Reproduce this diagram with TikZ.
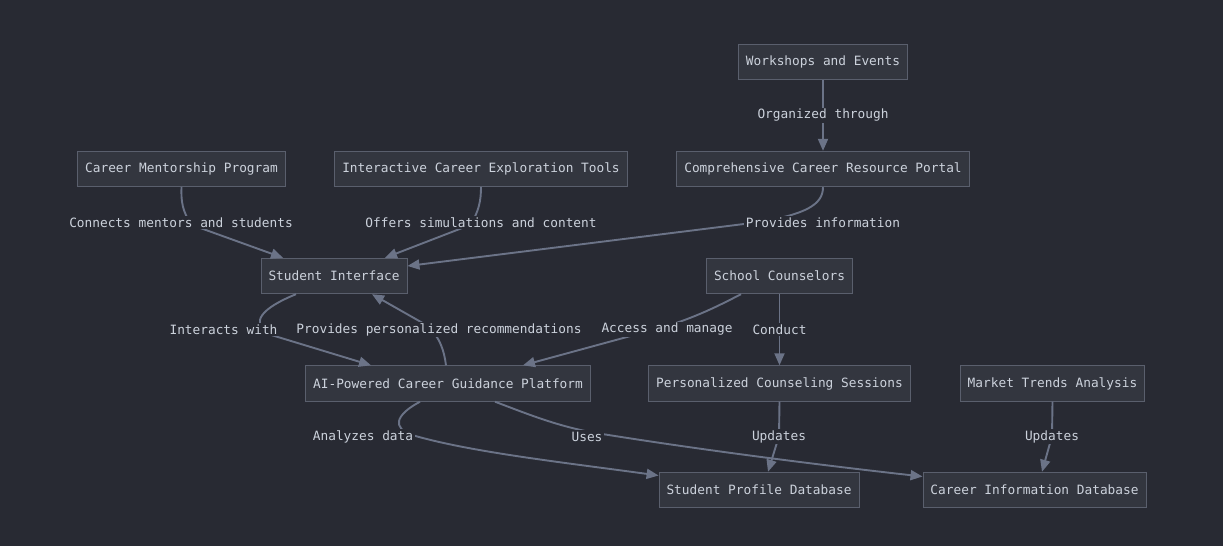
\documentclass[tikz,border=0pt]{standalone}
\usepackage{fontspec}
\setmonofont{DejaVu Sans Mono}
\usepackage{tikz}
\usetikzlibrary{arrows.meta,positioning}

\definecolor{canvas}{HTML}{282A33}
\definecolor{boxfill}{HTML}{33363F}
\definecolor{boxline}{HTML}{5A5F6D}
\definecolor{ink}{HTML}{CCD2DC}
\definecolor{wire}{HTML}{6B7387}

\tikzset{
  box/.style={draw=boxline,fill=boxfill,line width=0.9pt,text=ink,
    font=\ttfamily\fontsize{12.8}{15}\selectfont,inner xsep=7.5pt,minimum height=35.5pt},
  lbl/.style={fill=canvas,text=ink,font=\ttfamily\fontsize{12.8}{15}\selectfont,inner sep=1.5pt},
  link/.style={draw=wire,line width=1.9pt,-{Triangle[length=12pt,width=10pt]}}
}

\begin{document}
\begin{tikzpicture}[x=1pt,y=-1pt]
  \fill[canvas] (0,0) rectangle (1223,546);
  \useasboundingbox (0,0) rectangle (1223,546);

  \node[box] (events)   at (823,62)    {Workshops and Events};
  \node[box] (mentor)   at (181.5,169) {Career Mentorship Program};
  \node[box] (tools)    at (481,169)   {Interactive Career Exploration Tools};
  \node[box] (portal)   at (823,169)   {Comprehensive Career Resource Portal};
  \node[box] (student)  at (334,276)   {Student Interface};
  \node[box] (counsel)  at (779.5,276) {School Counselors};
  \node[box] (platform) at (448,383.5) {AI-Powered Career Guidance Platform};
  \node[box] (sessions) at (779.5,383.5) {Personalized Counseling Sessions};
  \node[box] (market)   at (1052.5,383.5) {Market Trends Analysis};
  \node[box] (profile)  at (759,490)   {Student Profile Database};
  \node[box] (careerdb) at (1034.5,490) {Career Information Database};

  \draw[link] (events) -- (portal);
  \draw[link] (mentor.south) .. controls (181,200) and (182,212) .. (192,225) -- ([xshift=-51pt]student.north);
  \draw[link] (tools.south) .. controls (481,200) and (479,212) .. (470,225) -- ([xshift=51pt]student.north);
  \draw[link] (portal.south) .. controls (823,205) and (805,214) .. (760,222) -- ([yshift=10pt]student.east);
  \draw[link] ([xshift=-38pt]student.south) .. controls (262,308) and (250,322) .. (268,334) -- ([xshift=-77pt]platform.north);
  \draw[link] ([xshift=-2pt]platform.north) .. controls (444,350) and (440,338) .. (428,326) -- ([xshift=38pt]student.south);
  \draw[link] ([xshift=-38.5pt]counsel.south) .. controls (720,305) and (695,318) .. (660,328) -- ([xshift=75pt]platform.north);
  \draw[link] (counsel) -- (sessions);
  \draw[link] ([xshift=-28pt]platform.south) .. controls (395,415) and (392,428) .. (412,435)
    .. controls (470,452) and (560,462) .. ([yshift=14.5pt]profile.west);
  \draw[link] ([xshift=47pt]platform.south) .. controls (530,415) and (555,425) .. (590,432)
    .. controls (700,450) and (820,465) .. ([yshift=13.5pt]careerdb.west);
  \draw[link] (sessions.south) -- (779,436) -- ([xshift=9pt]profile.north);
  \draw[link] (market.south) -- (1052,436) -- ([xshift=7.5pt]careerdb.north);

  \node[lbl] (l1)  at (823,115.5)   {Organized through};
  \node[lbl] (l2)  at (181,222.5)   {Connects mentors and students};
  \node[lbl] (l3)  at (481,222.5)   {Offers simulations and content};
  \node[lbl] (l4)  at (823,222.5)   {Provides information};
  \node[lbl] (l5)  at (223.5,329.5) {Interacts with};
  \node[lbl] (l6)  at (439,329.5)   {Provides personalized recommendations};
  \node[lbl] (l7)  at (667,329.5)   {Access and manage};
  \node[lbl] (l8)  at (779.5,329.5) {Conduct};
  \node[lbl] (l9)  at (363,436.5)   {Analyzes data};
  \node[lbl] (l10) at (587,436.5)   {Uses};
  \node[lbl] (l11) at (779,436.5)   {Updates};
  \node[lbl] (l12) at (1052,436.5)  {Updates};
\end{tikzpicture}
\end{document}
